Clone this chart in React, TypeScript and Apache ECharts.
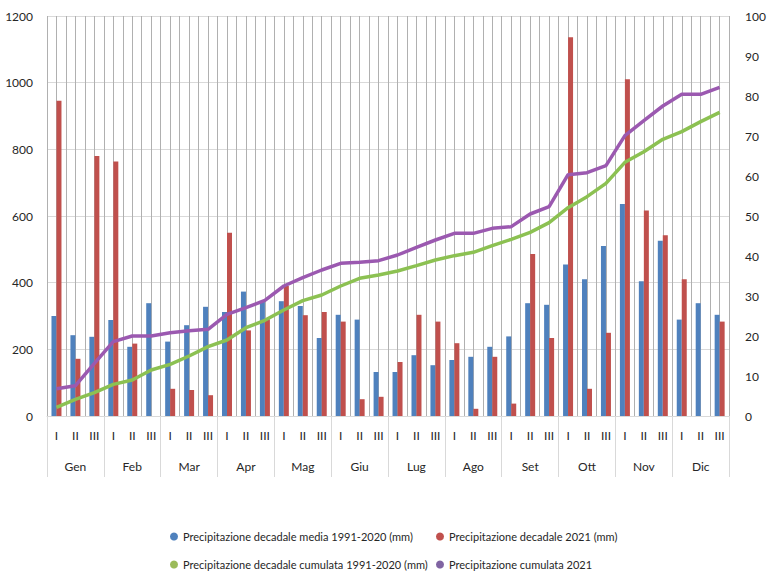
import React, { useEffect, useRef } from "react";
import * as echarts from "echarts";

const months = ["Gen", "Feb", "Mar", "Apr", "Mag", "Giu", "Lug", "Ago", "Set", "Ott", "Nov", "Dic"];
const decadi = ["I", "II", "III"];

// mm per decade (right axis)
const media9120 = [
  25, 20.2, 19.8, 24, 17.3, 28.2, 18.6, 22.7, 27.3, 26, 31.1, 28.5,
  28.7, 27.5, 19.5, 25.3, 24.1, 11, 11, 15.2, 12.7, 14, 14.8, 17.3,
  19.9, 28.2, 27.8, 37.9, 34.2, 42.5, 53, 33.7, 43.8, 24.1, 28.2, 25.3,
];
const dec2021 = [
  78.8, 14.3, 65, 63.6, 18.1, 0, 6.8, 6.5, 5.2, 45.8, 21.4, 24.2,
  32.5, 25.2, 26, 23.6, 4.2, 4.8, 13.5, 25.3, 23.6, 18.2, 1.8, 14.8,
  3.1, 40.5, 19.5, 94.7, 6.8, 20.8, 84.2, 51.4, 45.2, 34.2, 0, 23.6,
];
// cumulative mm (left axis)
const cum9120 = [
  26, 50, 70, 95, 108, 138, 155, 180, 208, 228, 265, 287,
  318, 346, 363, 390, 413, 423, 435, 451, 468, 481, 491, 511,
  530, 551, 580, 625, 658, 698, 761, 793, 830, 853, 883, 911,
];
const cum2021 = [
  82, 91, 158, 223, 240, 240, 250, 256, 260, 305, 325, 347,
  390, 415, 438, 458, 461, 466, 483, 506, 528, 548, 548, 563,
  568, 606, 628, 724, 730, 751, 841, 886, 930, 965, 965, 986,
];

const names = [
  "Precipitazione decadale media 1991-2020 (mm)",
  "Precipitazione decadale 2021 (mm)",
  "Precipitazione decadale cumulata 1991-2020 (mm)",
  "Precipitazione cumulata 2021",
];

const FONT = "Lato, Roboto, sans-serif";
const TXT = "#262626";

export default function App() {
  const ref = useRef<HTMLDivElement>(null);
  useEffect(() => {
    if (!ref.current) return;
    const chart = echarts.init(ref.current, undefined, { renderer: "svg" });
    const decCats = months.flatMap(() => decadi);
    const halfCats = Array.from({ length: decCats.length * 2 }, (_, i) => "h" + i);
    const legendBase = {
      icon: "circle",
      itemWidth: 8,
      itemHeight: 8,
      itemGap: 5,
      padding: 0,
      textStyle: { fontFamily: FONT, fontSize: 11, color: TXT },
      selectedMode: false as const,
    };
    chart.setOption({
      animation: false,
      textStyle: { fontFamily: FONT },
      grid: { left: 47, right: 34, top: 16, bottom: 157, containLabel: false },
      legend: [
        { ...legendBase, left: 170, top: 531, data: [{ name: names[0], itemStyle: { color: "#4f81bd" } }] },
        { ...legendBase, left: 436, top: 531, data: [{ name: names[1], itemStyle: { color: "#c0504d" } }] },
        { ...legendBase, left: 170, top: 559, data: [{ name: names[2], itemStyle: { color: "#9bbb59" } }] },
        { ...legendBase, left: 436, top: 559, data: [{ name: names[3], itemStyle: { color: "#8064a2" } }] },
      ],
      xAxis: [
        {
          type: "category",
          data: decCats,
          position: "bottom",
          axisLine: { show: true, lineStyle: { color: "#d9d9d9", width: 1 } },
          axisTick: { show: false },
          axisLabel: { interval: 0, margin: 13, fontSize: 12, color: TXT, fontFamily: FONT },
          splitLine: { show: false },
        },
        {
          type: "category",
          data: months,
          position: "bottom",
          axisLine: { show: false },
          axisTick: { show: true, interval: 0, length: 61, lineStyle: { color: "#d9d9d9", width: 1 } },
          axisLabel: { interval: 0, margin: 44, fontSize: 12, color: TXT, fontFamily: FONT },
          splitLine: { show: false },
        },
        {
          type: "category",
          data: halfCats,
          position: "top",
          axisLine: { show: false },
          axisTick: { show: false },
          axisLabel: { show: false },
          splitLine: { show: true, interval: 0, lineStyle: { color: "#b0b0b0", width: 1 } },
        },
      ],
      yAxis: [
        {
          type: "value",
          min: 0,
          max: 1200,
          interval: 200,
          position: "left",
          axisLine: { show: false },
          axisTick: { show: false },
          axisLabel: {
            margin: 14,
            fontSize: 12,
            color: TXT,
            fontFamily: FONT,
            formatter: (v: number) => String(v),
          },
          splitLine: { show: true, lineStyle: { color: "#d9d9d9", width: 1 } },
        },
        {
          type: "value",
          min: 0,
          max: 100,
          interval: 10,
          position: "right",
          axisLine: { show: false },
          axisTick: { show: false },
          axisLabel: {
            margin: 16,
            fontSize: 12,
            color: TXT,
            fontFamily: FONT,
            formatter: (v: number) => String(v),
          },
          splitLine: { show: false },
        },
      ],
      series: [
        {
          name: names[0],
          type: "bar",
          xAxisIndex: 0,
          yAxisIndex: 1,
          data: media9120,
          barWidth: 5,
          barGap: "0%",
          itemStyle: { color: "#4f81bd" },
          z: 3,
        },
        {
          name: names[1],
          type: "bar",
          xAxisIndex: 0,
          yAxisIndex: 1,
          data: dec2021,
          barWidth: 5,
          barGap: "0%",
          itemStyle: { color: "#c0504d" },
          z: 3,
        },
        {
          name: names[2],
          type: "line",
          xAxisIndex: 0,
          yAxisIndex: 0,
          data: cum9120,
          showSymbol: false,
          symbol: "none",
          lineStyle: { color: "#8cc152", width: 3.5 },
          itemStyle: { color: "#9bbb59" },
          z: 5,
        },
        {
          name: names[3],
          type: "line",
          xAxisIndex: 0,
          yAxisIndex: 0,
          data: cum2021,
          showSymbol: false,
          symbol: "none",
          lineStyle: { color: "#9b59b0", width: 3.5 },
          itemStyle: { color: "#8064a2" },
          z: 6,
        },
      ],
    });
    return () => chart.dispose();
  }, []);
  return <div ref={ref} style={{ width: 769, height: 573, position: "absolute", left: 0, top: 0 }} />;
}
